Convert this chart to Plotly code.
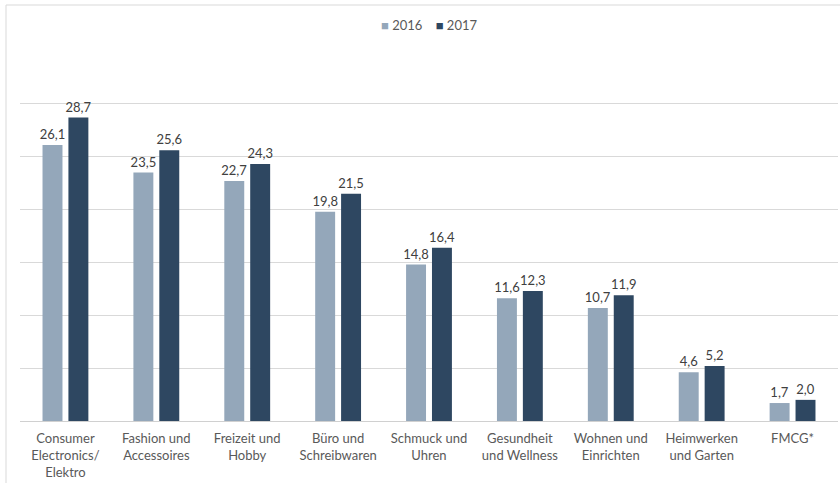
import plotly.graph_objects as go

categories = [
    "Consumer<br>Electronics/<br>Elektro",
    "Fashion und<br>Accessoires",
    "Freizeit und<br>Hobby",
    "Büro und<br>Schreibwaren",
    "Schmuck und<br>Uhren",
    "Gesundheit<br>und Wellness",
    "Wohnen und<br>Einrichten",
    "Heimwerken<br>und Garten",
    "FMCG*",
]
series_names = ["2016", "2017"]
values_2016 = [26.1, 23.5, 22.7, 19.8, 14.8, 11.6, 10.7, 4.6, 1.7]
values_2017 = [28.7, 25.6, 24.3, 21.5, 16.4, 12.3, 11.9, 5.2, 2.0]

colors = ["#94A7BA", "#2E4761"]
font_family = "Lato, 'Open Sans', sans-serif"

fig = go.Figure()
for name, vals, col in zip(series_names, [values_2016, values_2017], colors):
    fig.add_trace(go.Bar(
        name=name, x=categories, y=vals,
        marker=dict(color=col, line=dict(width=0)),
        texttemplate="%{y:.1f}", textposition="outside",
        textfont=dict(color="#404040", size=13, family=font_family),
        cliponaxis=False, showlegend=False,
    ))

# Legend drawn as a centred line of coloured squares and year labels
legend_text = "&nbsp;&nbsp;&nbsp;&nbsp;".join(
    f"<span style='color:{c}'>■</span>&nbsp;{n}" for n, c in zip(series_names, colors)
)

fig.update_layout(
    width=840, height=483,
    margin=dict(l=20, r=2, t=51, b=62),
    paper_bgcolor="white", plot_bgcolor="white",
    barmode="group", bargap=0.43, bargroupgap=0.23,
    separators=",.",
    font=dict(family=font_family, color="#595959", size=13),
    uniformtext=dict(minsize=13, mode="show"),
    xaxis=dict(
        showgrid=False, showline=False, ticks="",
        tickfont=dict(size=13, color="#595959"),
        ticklabelstandoff=8,
    ),
    yaxis=dict(
        range=[0, 35], dtick=5, showticklabels=False,
        showgrid=True, gridcolor="#D9D9D9", gridwidth=1,
        zeroline=True, zerolinecolor="#D0D0D0", zerolinewidth=1,
        fixedrange=True,
    ),
    annotations=[dict(
        text=legend_text, xref="paper", yref="paper",
        x=0.5, y=396 / 370, xanchor="center", yanchor="middle",
        showarrow=False, font=dict(size=13, color="#595959"),
    )],
    shapes=[dict(
        type="rect", xref="paper", yref="paper",
        x0=-14 / 818, x1=1.2, y0=-0.3, y1=416 / 370,
        line=dict(color="#D9D9D9", width=1), fillcolor="rgba(0,0,0,0)",
        layer="below",
    )],
)

fig.write_html("out.html")
